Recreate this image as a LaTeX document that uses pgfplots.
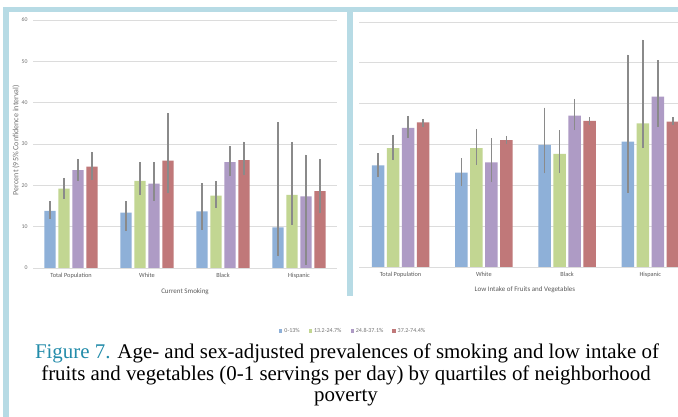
\documentclass[border=0pt]{standalone}
\usepackage{pgfplots}
\pgfplotsset{compat=1.18}
\usepackage{pgfplotstable}
\usepackage{fontspec}
\setmainfont{Liberation Serif}
\newfontfamily\chartfont{Carlito}
\definecolor{cblue}{RGB}{142,176,216}
\definecolor{cgreen}{RGB}{194,214,146}
\definecolor{cpurple}{RGB}{174,155,197}
\definecolor{cred}{RGB}{192,120,121}
\definecolor{errc}{RGB}{138,138,138}
\definecolor{gridc}{RGB}{220,220,220}
\definecolor{tickc}{RGB}{115,115,115}
\definecolor{catc}{RGB}{90,90,90}
\definecolor{borderc}{RGB}{183,219,229}
\definecolor{figc}{RGB}{35,140,170}

\pgfplotstableread{
x b bp bm g gp gm p pp pm r rp rm
0 13.8 2.3 1.9 19.2 2.6 2.4 23.7 2.7 2.6 24.5 3.6 3.1
1 13.4 2.7 4.4 21.1 4.5 3.5 20.4 5.2 4.1 26.0 11.5 7.9
2 13.7 6.8 4.4 17.5 3.6 3.0 25.6 3.8 3.4 26.1 4.5 3.7
3 9.8 25.5 7.0 17.7 12.8 7.2 17.3 10.1 16.5 18.6 7.8 5.3
}\smoking
\pgfplotstableread{
x b bp bm g gp gm p pp pm r rp rm
0 24.9 3.0 2.9 29.1 3.3 2.9 34.1 2.9 2.5 35.4 0.9 1.0
1 23.1 3.5 3.2 29.1 4.7 4.0 25.6 5.9 4.7 31.1 1.0 1.0
2 29.9 9.1 7.0 27.7 5.8 4.6 37.1 4.1 3.6 35.8 0.9 1.0
3 30.7 21.3 12.5 35.2 20.5 6.1 41.7 8.9 7.3 35.6 1.1 0.9
}\fruit

\pgfplotsset{
  panel/.style={
    scale only axis,
    ymin=0, ymax=60, ytick={0,10,...,60},
    xmin=-0.5,
    ybar, bar width=0.15,
    axis line style={draw=none},
    ymajorgrids, grid style={color=gridc, line width=0.8pt},
    major tick length=0pt,
    xtick={0,1,2,3},
    xticklabels={Total Population,White,Black,Hispanic},
    /pgf/number format/assume math mode=true,
    yticklabel style={font=\chartfont\fontsize{5.8}{6}\selectfont, color=tickc, xshift=-2pt},
    xticklabel style={font=\chartfont\fontsize{6.3}{7}\selectfont, color=catc, yshift=-2pt},
    clip=true,
  },
  errs/.style={
    error bars/.cd, y dir=both, y explicit,
    error mark=none,
    error bar style={line width=1.5pt, color=errc},
  },
}

\begin{document}
\begin{tikzpicture}
\path[use as bounding box, fill=white] (0pt,0pt) rectangle (678pt,417pt);

% Left panel: Current Smoking
\begin{axis}[panel,
  at={(33pt,149pt)}, anchor=south west,
  width=304pt, height=248pt,
  xmax=3.5,
  xlabel={Current Smoking},
  xlabel style={font=\chartfont\fontsize{7}{8}\selectfont, color=catc,
    at={(axis description cs:0.5,0)}, anchor=center, yshift=-24pt},
  legend style={at={(axis description cs:1.053,-0.254)}, anchor=center,
    legend columns=4, draw=none, fill=none,
    font=\chartfont\fontsize{6}{7}\selectfont, text=tickc,
    /tikz/every even column/.append style={column sep=7pt}},
  legend image code/.code={\fill[#1] (0pt,-1.7pt) rectangle (3.4pt,1.7pt);},
]
\addplot+[fill=cblue, draw=none, bar shift=0pt, errs] table[x expr=\thisrow{x}-0.276, y=b, y error plus=bp, y error minus=bm] {\smoking};
\addlegendentry{0-13\%}
\addplot+[fill=cgreen, draw=none, bar shift=0pt, errs] table[x expr=\thisrow{x}-0.092, y=g, y error plus=gp, y error minus=gm] {\smoking};
\addlegendentry{13.2-24.7\%}
\addplot+[fill=cpurple, draw=none, bar shift=0pt, errs] table[x expr=\thisrow{x}+0.092, y=p, y error plus=pp, y error minus=pm] {\smoking};
\addlegendentry{24.8-37.1\%}
\addplot+[fill=cred, draw=none, bar shift=0pt, errs] table[x expr=\thisrow{x}+0.276, y=r, y error plus=rp, y error minus=rm] {\smoking};
\addlegendentry{37.2-74.4\%}
\end{axis}

% Right panel: Low intake of fruits and vegetables
\begin{axis}[panel,
  at={(359pt,150pt)}, anchor=south west,
  width=319pt, height=245pt,
  xmax=3.332,
  yticklabels={},
  xlabel={Low Intake of Fruits and Vegetables},
  xlabel style={font=\chartfont\fontsize{7}{8}\selectfont, color=catc,
    at={(axis description cs:0.52,0)}, anchor=center, yshift=-23pt},
]
\addplot+[fill=cblue, draw=none, bar shift=0pt, errs] table[x expr=\thisrow{x}-0.271, y=b, y error plus=bp, y error minus=bm] {\fruit};
\addplot+[fill=cgreen, draw=none, bar shift=0pt, errs] table[x expr=\thisrow{x}-0.090, y=g, y error plus=gp, y error minus=gm] {\fruit};
\addplot+[fill=cpurple, draw=none, bar shift=0pt, errs] table[x expr=\thisrow{x}+0.090, y=p, y error plus=pp, y error minus=pm] {\fruit};
\addplot+[fill=cred, draw=none, bar shift=0pt, errs] table[x expr=\thisrow{x}+0.271, y=r, y error plus=rp, y error minus=rm] {\fruit};
\end{axis}

% y axis title
\node[rotate=90, font=\chartfont\fontsize{8}{9}\selectfont, text=tickc] at (16pt,277pt) {Percent (95\% Confidence interval)};

% frame borders
\fill[borderc] (3pt,0pt) rectangle (9pt,410pt);
\fill[borderc] (3pt,405pt) rectangle (678pt,410pt);
\fill[borderc] (347pt,121pt) rectangle (353pt,410pt);

% caption
\node[anchor=base, font=\fontsize{20.9}{22}\selectfont, inner sep=0pt] at (347pt,58pt)
  {\textcolor{figc}{Figure 7.} Age- and sex-adjusted prevalences of smoking and low intake of};
\node[anchor=base, font=\fontsize{20.9}{22}\selectfont, inner sep=0pt] at (346pt,36pt)
  {fruits and vegetables (0-1 servings per day) by quartiles of neighborhood};
\node[anchor=base, font=\fontsize{20.9}{22}\selectfont, inner sep=0pt] at (346pt,15pt)
  {poverty};
\end{tikzpicture}
\end{document}
